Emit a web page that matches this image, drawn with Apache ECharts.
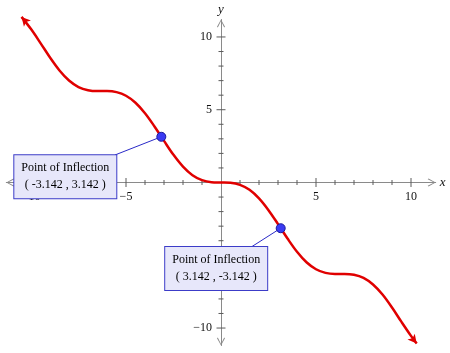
<!DOCTYPE html>
<html>
<head>
<meta charset="utf-8">
<script src="https://cdn.jsdelivr.net/npm/echarts@6/dist/echarts.min.js"></script>
<style>
html,body{margin:0;padding:0;background:#fff;}
#chart{width:450px;height:353px;}
</style>
</head>
<body>
<div id="chart"></div>
<script>
// Curve y = f(x)
const xValues = [-10.5,-10,-9.5,-9,-8.5,-8,-7.5,-7,-6.5,-6,-5.5,-5,-4.5,-4,-3.5,-3,-2.5,-2,-1.5,-1,-0.5,0,0.5,1,1.5,2,2.5,3,3.5,4,4.5,5,5.5,6,6.5,7,7.5,8,8.5,9,9.5,10,10.3];
const yValues = [11.38,10.54,9.58,8.59,7.70,7.01,6.56,6.34,6.28,6.28,6.21,5.96,5.48,4.76,3.85,2.86,1.90,1.09,0.50,0.16,0.02,0,-0.02,-0.16,-0.50,-1.09,-1.90,-2.86,-3.85,-4.76,-5.48,-5.96,-6.21,-6.28,-6.28,-6.34,-6.56,-7.01,-7.70,-8.59,-9.58,-10.54,-11.07];
// Points of inflection
const inflectionX = [-3.142, 3.142];
const inflectionY = [3.142, -3.142];
const annotationTitle = 'Point of Inflection';
// where each callout's leader line meets its box (data units)
const calloutX = [-5.58, 1.62];
const calloutY = [1.89, -4.41];
// Axis ticks and labels
const majorTicks = [-10, -5, 5, 10];
const tickLabels = ['\u221210', '\u22125', '5', '10'];
const minorTicks = [-9,-8,-7,-6,-4,-3,-2,-1,1,2,3,4,6,7,8,9];
const xRange = [-11.3, 11.3];
const yRange = [-11.2, 11.2];

const SERIF = 'Liberation Serif';
const AXIS_COLOR = '#8a8a8a';
const TICK_COLOR = '#5a5a5a';
const chevron = 'path://M5,0 L10,9 L9,10 L5,2 L1,10 L0,9 Z';

function makeAxis(dim) {
  const range = dim === 'x' ? xRange : yRange;
  return {
    type: 'value', min: range[0], max: range[1],
    splitLine: {show: false},
    axisLine: {
      show: true, onZero: true,
      symbol: [chevron, chevron], symbolSize: [8, 8], symbolOffset: [4, -4],
      lineStyle: {color: AXIS_COLOR, width: 1}
    },
    axisTick: {show: false},
    axisLabel: {show: false},
    name: dim, nameLocation: 'end', nameGap: dim === 'x' ? 4 : 3,
    nameTextStyle: {fontFamily: SERIF, fontStyle: 'italic', fontSize: 13, color: '#111'}
  };
}

// tick marks that cross the axes: [value, axis (0 = x, 1 = y), half length, label index or -1]
const tickData = [];
[0, 1].forEach(axis => {
  majorTicks.forEach((v, i) => tickData.push([v, axis, 4.5, i]));
  minorTicks.forEach(v => tickData.push([v, axis, 2.5, -1]));
});

const curveData = xValues.map((x, i) => {
  const d = {value: [x, yValues[i]]};
  if (i === 0) { d.symbol = 'arrow'; d.symbolSize = [7, 9]; d.symbolRotate = 41.5; }
  if (i === xValues.length - 1) { d.symbol = 'arrow'; d.symbolSize = [7, 9]; d.symbolRotate = -141.5; }
  return d;
});

const labelOffsets = [[-96, 40], [-64.5, 40.3]];

const chart = echarts.init(document.getElementById('chart'), null, {renderer: 'canvas'});
chart.setOption({
  animation: false,
  backgroundColor: '#fff',
  grid: {left: 6.3, right: 14.3, top: 19.5, bottom: 7.5, containLabel: false, outerBoundsMode: 'none'},
  xAxis: makeAxis('x'),
  yAxis: makeAxis('y'),
  series: [
    {
      type: 'custom', coordinateSystem: 'cartesian2d', clip: false, silent: true, z: 1,
      data: tickData,
      renderItem: (params, api) => {
        const v = api.value(0), isY = api.value(1) === 1, h = api.value(2), li = api.value(3);
        const p = api.coord(isY ? [0, v] : [v, 0]);
        const shape = isY ? {x1: p[0] - h, y1: p[1], x2: p[0] + h, y2: p[1]}
                          : {x1: p[0], y1: p[1] - h, x2: p[0], y2: p[1] + h};
        const children = [{type: 'line', shape: shape, style: {stroke: TICK_COLOR, lineWidth: 1}}];
        if (li >= 0) {
          children.push({
            type: 'text',
            x: isY ? p[0] - 9 : p[0],
            y: isY ? p[1] : p[1] + 8.5,
            style: {
              text: tickLabels[li], fill: '#111', font: '12px "Liberation Serif"',
              align: isY ? 'right' : 'center', verticalAlign: isY ? 'middle' : 'top'
            }
          });
        }
        return {type: 'group', children: children};
      }
    },
    {
      type: 'line', clip: false,
      data: curveData, smooth: 0.35,
      showSymbol: true, symbol: 'none',
      itemStyle: {color: '#e00000'},
      lineStyle: {color: '#e00000', width: 2.5},
      z: 3
    },
    {
      type: 'lines', coordinateSystem: 'cartesian2d', z: 4,
      data: inflectionX.map((x, i) => ({coords: [[x, inflectionY[i]], [calloutX[i], calloutY[i]]]})),
      lineStyle: {color: '#2a2ac8', width: 1, opacity: 1}
    },
    {
      type: 'scatter',
      data: inflectionX.map((x, i) => [x, inflectionY[i]]),
      symbolSize: 9,
      itemStyle: {color: '#3a3af2', borderColor: '#1b1b9c', borderWidth: 1, opacity: 1},
      z: 5,
      label: {
        show: true, position: 'inside',
        formatter: p => annotationTitle + '\n( ' + p.value[0].toFixed(3) + ' , ' + p.value[1].toFixed(3) + ' )',
        fontFamily: SERIF, fontSize: 12, lineHeight: 17, color: '#000',
        backgroundColor: '#e7e7fa', borderColor: '#3c3cc8', borderWidth: 1,
        padding: [5, 7, 4, 7]
      },
      labelLayout: p => ({dx: labelOffsets[p.dataIndex][0], dy: labelOffsets[p.dataIndex][1]})
    }
  ]
});
</script>
</body>
</html>
